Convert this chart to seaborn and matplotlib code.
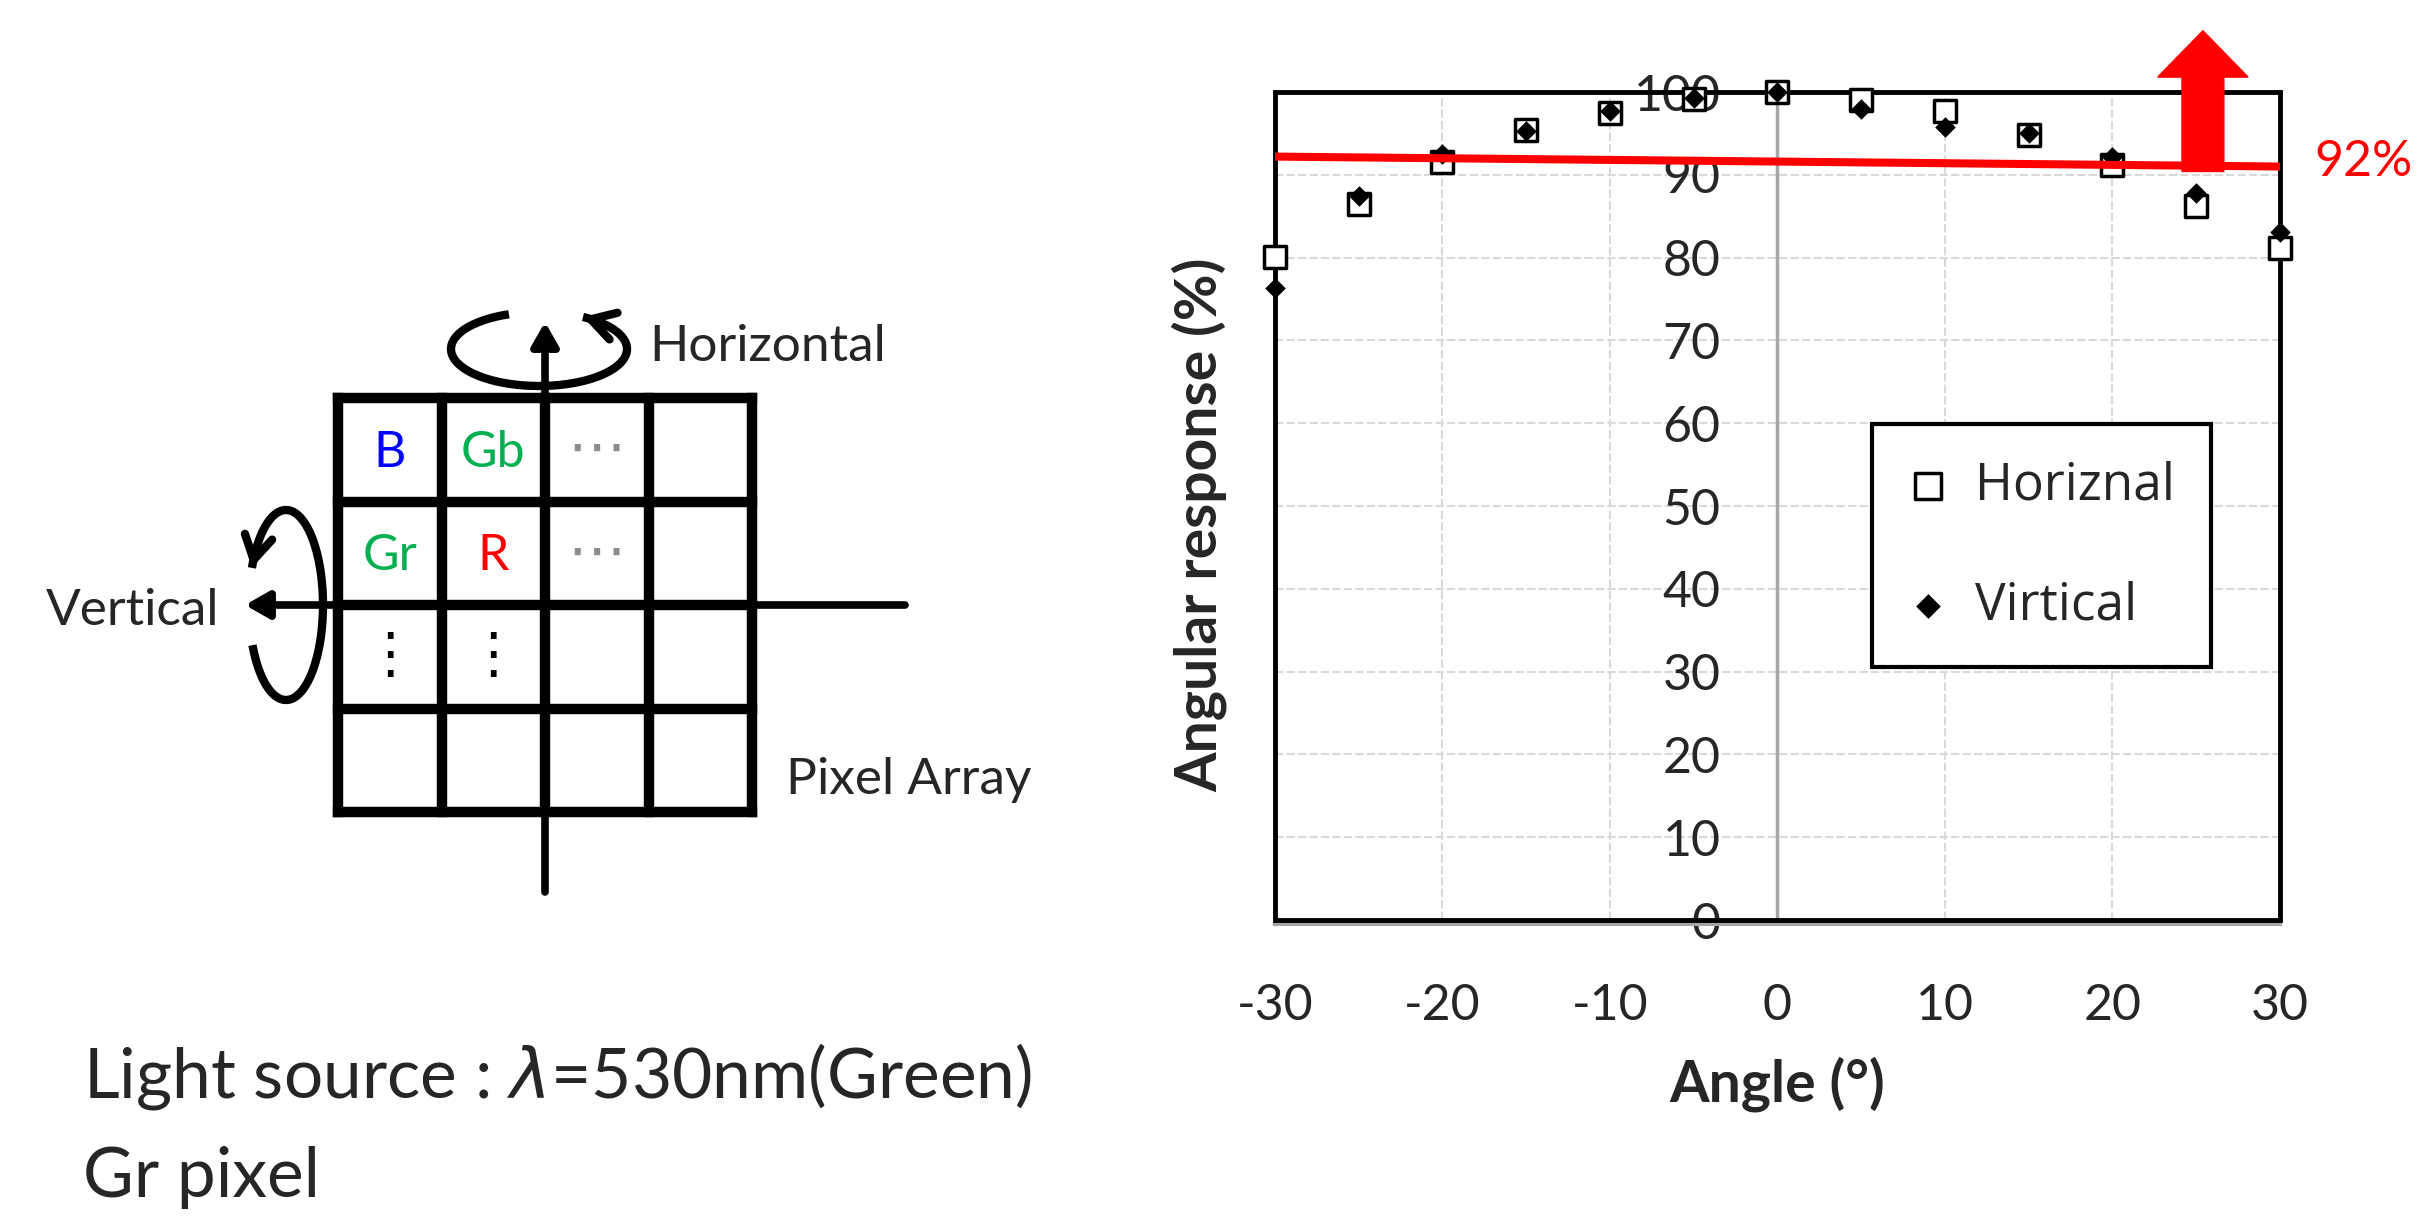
"""Angular response of the Gr pixel with the pixel-array rotation sketch."""

import matplotlib

matplotlib.use("Agg")

import matplotlib.pyplot as plt
import numpy as np
import pandas as pd
import seaborn as sns
from matplotlib.patches import Rectangle

# measured angular response (%) per incidence angle
angles = [-30, -25, -20, -15, -10, -5, 0, 5, 10, 15, 20, 25, 30]
horizontal = [80.1, 86.5, 91.6, 95.4, 97.5, 99.1, 100.0, 99.0, 97.7, 94.8, 91.2, 86.2, 81.2]
vertical = [76.3, 87.4, 92.5, 95.3, 97.7, 99.3, 100.0, 97.9, 95.8, 95.0, 92.1, 87.8, 83.1]
series_labels = ["Horiznal", "Virtical"]

# 92 % target line and the "better" arrow
threshold_x = [-30, 30]
threshold_y = [92.2, 91.0]
threshold_label = "92%"
arrow_x = 25.4
arrow_from = 90.4
arrow_to = 107.4

x_ticks = [-30, -20, -10, 0, 10, 20, 30]
y_ticks = [0, 10, 20, 30, 40, 50, 60, 70, 80, 90, 100]

# pixel array sketch
cell_labels = ["B", "Gb", "Gr", "R"]
cell_rows = [0, 0, 1, 1]
cell_cols = [0, 1, 0, 1]
cell_colors = ["#0000ff", "#00b050", "#00b050", "#ff0000"]
note_lines = [r"Light source : $\lambda$=530nm(Green)", "Gr pixel"]

sns.set_theme(style="white")
plt.rcParams["font.family"] = ["Lato", "DejaVu Sans"]
plt.rcParams["mathtext.fontset"] = "dejavusans"
plt.rcParams["axes.unicode_minus"] = False


def rotation_arc(ax, cx, cy, a, b, start, stop):
    """Open ellipse with a chevron head at its end (pixel coords, y down)."""
    t = np.radians(np.linspace(start, stop, 200))
    xs = cx + a * np.cos(t)
    ys = cy + b * np.sin(t)
    ax.plot(xs, ys, color="black", lw=6, solid_capstyle="butt")
    ax.annotate("", xy=(xs[-1], ys[-1]), xytext=(xs[-8], ys[-8]),
                arrowprops=dict(arrowstyle="->,head_length=17,head_width=10", lw=6,
                                color="black", mutation_scale=1, shrinkA=0, shrinkB=0))


def draw_pixel_diagram(ax):
    x0, y0, cell, n = 338, 398, 103.5, 4
    for i in range(n + 1):
        ax.plot([x0 + i * cell] * 2, [y0, y0 + n * cell], color="black", lw=7.5,
                solid_capstyle="projecting")
        ax.plot([x0, x0 + n * cell], [y0 + i * cell] * 2, color="black", lw=7.5,
                solid_capstyle="projecting")

    axis_x = x0 + 2 * cell
    axis_y = y0 + 2 * cell
    head = dict(arrowstyle="-|>,head_length=14,head_width=8", color="black", lw=5.5,
                mutation_scale=1, shrinkA=0, shrinkB=0)
    ax.annotate("", xy=(axis_x, 322), xytext=(axis_x, 892), arrowprops=head)
    ax.annotate("", xy=(245, axis_y), xytext=(905, axis_y), arrowprops=head)

    rotation_arc(ax, 539, 349, 88, 37, 250, -60)
    rotation_arc(ax, 286, 605, 37, 95, 155, -157)

    ax.text(649, 361, "Horizontal", fontsize=37, ha="left", va="baseline")
    ax.text(219, 625, "Vertical", fontsize=37, ha="right", va="baseline")
    ax.text(786, 794, "Pixel Array", fontsize=37, ha="left", va="baseline")

    for label, row, col, color in zip(cell_labels, cell_rows, cell_cols, cell_colors):
        cx = x0 + (col + 0.5) * cell
        cy = y0 + (row + 0.5) * cell
        ax.text(cx, cy + 17, label, color=color, fontsize=36, ha="center", va="baseline")
    for row in range(2):
        ax.text(x0 + 2.5 * cell, y0 + (row + 0.5) * cell, "\u22ef", color="#8c8c8c",
                fontsize=42, ha="center", va="center", family="DejaVu Sans")
    for col in range(2):
        ax.text(x0 + (col + 0.5) * cell, y0 + 2.5 * cell, "\u22ee", color="black",
                fontsize=40, ha="center", va="center", family="DejaVu Sans")

    for k, line in enumerate(note_lines):
        ax.text(83, 1097 + 100 * k, line, fontsize=50, ha="left", va="baseline")


fig = plt.figure(figsize=(24.33, 12.30), dpi=100)
sketch = fig.add_axes([0, 0, 1, 1], zorder=0)
sketch.set_xlim(0, 2433)
sketch.set_ylim(1230, 0)
sketch.axis("off")
draw_pixel_diagram(sketch)

ax = fig.add_axes([0.524, 0.252, 0.4131, 0.6732], zorder=1)
ax.patch.set_alpha(0)
df = pd.DataFrame({"angle": angles, series_labels[0]: horizontal, series_labels[1]: vertical})

sns.scatterplot(data=df, x="angle", y=series_labels[0], marker="s", s=250, color="white",
                edgecolor="black", linewidth=2.5, zorder=4, label=series_labels[0],
                clip_on=False, ax=ax)
sns.scatterplot(data=df, x="angle", y=series_labels[1], marker="D", s=110, color="black",
                edgecolor="black", linewidth=0, zorder=5, label=series_labels[1],
                clip_on=False, ax=ax)
sns.lineplot(x=threshold_x, y=threshold_y, color="red", lw=5.8, zorder=6, legend=False, ax=ax)
ax.arrow(arrow_x, arrow_from, 0, arrow_to - arrow_from, width=2.5, head_width=5.4,
         head_length=5.6, length_includes_head=True, color="red", clip_on=False, zorder=6)
ax.annotate(threshold_label, xy=(threshold_x[-1], threshold_y[-1]), xytext=(25, 3),
            textcoords="offset points", color="red", fontsize=36, ha="left", va="center")

ax.set_xlim(-30, 30)
ax.set_ylim(0, 100)
ax.set_xticks(x_ticks)
ax.set_yticks(y_ticks)
ax.tick_params(axis="x", length=0, pad=42, labelsize=36)
ax.tick_params(axis="y", length=0, pad=41, labelsize=36)
ax.grid(True, color="#d9d9d9", linestyle=(0, (4, 1.5)), lw=1.5)
ax.set_axisbelow(True)

for side in ["top", "right"]:
    ax.spines[side].set_visible(False)
ax.spines["left"].set_position(("data", 0))
ax.spines["left"].set_color("#a6a6a6")
ax.spines["left"].set_linewidth(2.5)
ax.spines["bottom"].set_position(("outward", 3))
ax.spines["bottom"].set_color("#a6a6a6")
ax.spines["bottom"].set_linewidth(3)
ax.add_patch(Rectangle((0, 0), 1, 1, transform=ax.transAxes, fill=False, ec="black",
                       lw=3.5, clip_on=False, zorder=3))

ax.set_xlabel("Angle (°)", fontsize=41, fontweight="bold")
ax.set_ylabel("Angular response (%)", fontsize=41, fontweight="bold")
ax.xaxis.set_label_coords(0.5, -0.165)
ax.yaxis.set_label_coords(-0.047, 0.477)

handles, labels = ax.get_legend_handles_labels()
legend = ax.legend(handles, labels, loc="upper left", bbox_to_anchor=(0.594, 0.599),
                   borderaxespad=0, frameon=True, fancybox=False, framealpha=1,
                   edgecolor="black", borderpad=0.7, labelspacing=1.35, handlelength=0.8,
                   handletextpad=0.5, markerscale=1.2,
                   prop={"family": "Open Sans", "size": 37})
legend.get_frame().set_linewidth(3)

fig.savefig("out.png", dpi=100)
plt.close(fig)
